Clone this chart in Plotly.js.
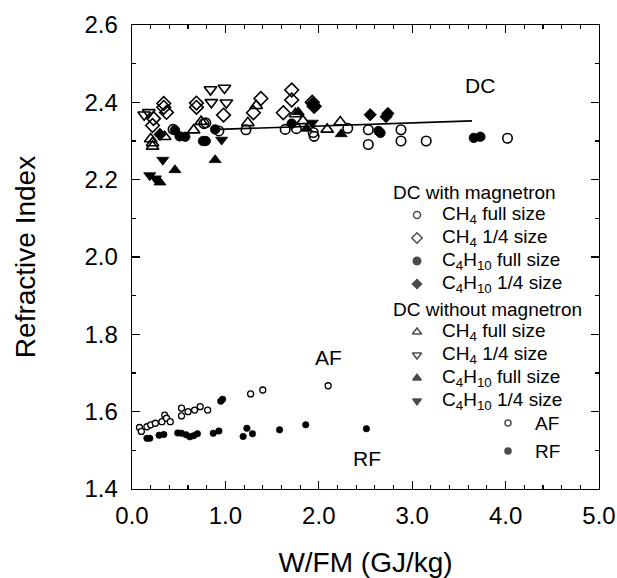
<!DOCTYPE html>
<html>
<head>
<meta charset="utf-8">
<script src="https://cdn.plot.ly/plotly-3.0.1.min.js"></script>
<style>html,body{margin:0;padding:0;background:#fff;}#chart{width:617px;height:578px;}</style>
</head>
<body>
<div id="chart"></div>
<script>
// ---- Data ----
// DC with magnetron, CH4 full size (open circles)
const magCH4FullX = [0.44,0.77,0.79,0.93,1.22,1.64,1.76,1.94,1.95,2.31,2.53,2.53,2.88,2.88,3.15,4.02];
const magCH4FullY = [2.330,2.345,2.347,2.326,2.329,2.330,2.332,2.322,2.312,2.333,2.329,2.291,2.329,2.300,2.300,2.307];
// DC with magnetron, CH4 1/4 size (open diamonds)
const magCH4QuarterX = [0.23,0.22,0.34,0.34,0.37,0.69,0.69,0.98,1.30,1.38,1.62,1.71,1.71,1.93,1.95];
const magCH4QuarterY = [2.358,2.340,2.397,2.387,2.374,2.398,2.387,2.367,2.373,2.410,2.373,2.432,2.406,2.400,2.390];
// DC with magnetron, C4H10 full size (filled circles)
const magC4FullX = [0.46,0.51,0.57,0.76,0.79,0.89,1.71,2.64,2.66,3.66,3.73];
const magC4FullY = [2.328,2.312,2.311,2.300,2.300,2.330,2.345,2.326,2.321,2.308,2.311];
// DC with magnetron, C4H10 1/4 size (filled diamonds)
const magC4QuarterX = [0.30,1.93,1.96,2.55,2.72,2.74];
const magC4QuarterY = [2.317,2.397,2.389,2.368,2.363,2.371];
// DC without magnetron, CH4 full size (open up-triangles)
const noMagCH4FullX = [0.20,0.22,0.22,0.35,0.66,0.74,1.24,1.33,1.75,1.83,2.09,2.23];
const noMagCH4FullY = [2.305,2.295,2.286,2.311,2.328,2.350,2.347,2.391,2.370,2.352,2.330,2.349];
// DC without magnetron, CH4 1/4 size (open down-triangles)
const noMagCH4QuarterX = [0.13,0.18,0.84,0.99,0.85,1.01];
const noMagCH4QuarterY = [2.368,2.374,2.433,2.437,2.400,2.399];
// DC without magnetron, C4H10 full size (filled up-triangles)
const noMagC4FullX = [0.30,0.46,0.89,1.78,1.87,2.24];
const noMagC4FullY = [2.193,2.225,2.251,2.375,2.332,2.318];
// DC without magnetron, C4H10 1/4 size (filled down-triangles)
const noMagC4QuarterX = [0.19,0.25,0.33,0.96,1.93];
const noMagC4QuarterY = [2.211,2.203,2.251,2.303,2.347];
// AF (small open circles)
const afX = [0.08,0.10,0.16,0.20,0.25,0.32,0.35,0.37,0.41,0.53,0.53,0.60,0.67,0.73,0.81,1.27,1.40,2.10];
const afY = [1.559,1.549,1.561,1.566,1.570,1.574,1.591,1.583,1.574,1.609,1.589,1.600,1.604,1.613,1.604,1.646,1.656,1.667];
// RF (small filled circles)
const rfX = [0.16,0.19,0.29,0.34,0.49,0.53,0.58,0.62,0.66,0.70,0.87,0.93,0.95,0.97,1.19,1.23,1.29,1.58,1.86,2.51];
const rfY = [1.531,1.531,1.539,1.541,1.545,1.544,1.540,1.535,1.538,1.543,1.544,1.550,1.627,1.632,1.536,1.557,1.543,1.553,1.566,1.556];
// DC fit line
const fitX = [0.92, 3.64];
const fitY = [2.330, 2.352];

// Legend / labels
const groupTitles = ['DC with magnetron', 'DC without magnetron'];
const itemLabels = ['CH<sub>4</sub> full size', 'CH<sub>4</sub> 1/4 size', 'C<sub>4</sub>H<sub>10</sub> full size', 'C<sub>4</sub>H<sub>10</sub> 1/4 size'];
const extraLabels = ['AF', 'RF'];
const xTickVals = [0, 1, 2, 3, 4, 5];
const xTickText = ['0.0', '1.0', '2.0', '3.0', '4.0', '5.0'];
const yTickVals = [1.4, 1.6, 1.8, 2.0, 2.2, 2.4, 2.6];
const yTickText = ['1.4', '1.6', '1.8', '2.0', '2.2', '2.4', '2.6'];

// ---- Styles ----
const FONT = 'Liberation Sans, Arial, Helvetica, sans-serif';
const BLK = '#000';
const openM = (sym, size) => ({symbol: sym, size: size, color: 'rgba(255,255,255,0)', line: {color: BLK, width: 1.6}});
const fillM = (sym, size) => ({symbol: sym, size: size, color: BLK, line: {color: BLK, width: 0.8}});

const styles = [
  openM('circle', 9.5), openM('diamond', 10.5), fillM('circle', 9.5), fillM('diamond', 9.5),
  openM('triangle-up', 11), openM('triangle-down', 11), fillM('triangle-up', 10.5), fillM('triangle-down', 10.5)
];
const seriesX = [magCH4FullX, magCH4QuarterX, magC4FullX, magC4QuarterX, noMagCH4FullX, noMagCH4QuarterX, noMagC4FullX, noMagC4QuarterX];
const seriesY = [magCH4FullY, magCH4QuarterY, magC4FullY, magC4QuarterY, noMagCH4FullY, noMagCH4QuarterY, noMagC4FullY, noMagC4QuarterY];

const traces = [];
traces.push({x: fitX, y: fitY, mode: 'lines', line: {color: BLK, width: 1.6}, showlegend: false, hoverinfo: 'skip'});
for (let i = 0; i < seriesX.length; i++) {
  traces.push({x: seriesX[i], y: seriesY[i], mode: 'markers', marker: styles[i], showlegend: false, cliponaxis: false});
}
traces.push({x: afX, y: afY, mode: 'markers', marker: {symbol: 'circle', size: 6, color: '#fff', line: {color: BLK, width: 1.3}}, showlegend: false});
traces.push({x: rfX, y: rfY, mode: 'markers', marker: {symbol: 'circle', size: 6.5, color: BLK, line: {color: BLK, width: 0.6}}, showlegend: false});

// ---- Legend drawn on a pixel-aligned overlay axis ----
const PL = 132, PR = 599, PT = 25, PB = 489;
const legSymX = 417, legTextX = 440, legHeadX = 391;
const headY = [192, 309];
const rowStep = 23;
const legX = [], legY = [], legSym = [], legCol = [], legSize = [];
const legSizes = [7, 8, 7.5, 7, 8, 8, 7.5, 7.5];
const annotations = [];
for (let g = 0; g < 2; g++) {
  annotations.push({xref: 'x2', yref: 'y2', x: legHeadX, y: headY[g], text: groupTitles[g], showarrow: false, xanchor: 'left', yanchor: 'middle', font: {family: FONT, size: 19, color: BLK}});
  for (let k = 0; k < 4; k++) {
    const yy = headY[g] + 23 + k * rowStep;
    const st = styles[g * 4 + k];
    legX.push(legSymX); legY.push(yy); legSym.push(st.symbol);
    legCol.push(st.color); legSize.push(legSizes[g * 4 + k]);
    annotations.push({xref: 'x2', yref: 'y2', x: legTextX, y: yy, text: itemLabels[k], showarrow: false, xanchor: 'left', yanchor: 'middle', font: {family: FONT, size: 19, color: BLK}});
  }
}
const extraY = [423, 451];
const extraSymX = 508, extraTextX = 533;
for (let k = 0; k < 2; k++) {
  legX.push(extraSymX); legY.push(extraY[k]); legSym.push('circle');
  legCol.push(k === 0 ? '#fff' : BLK); legSize.push(6);
  annotations.push({xref: 'x2', yref: 'y2', x: extraTextX, y: extraY[k], text: extraLabels[k], showarrow: false, xanchor: 'left', yanchor: 'middle', font: {family: FONT, size: 19, color: BLK}});
}
traces.push({x: legX, y: legY, xaxis: 'x2', yaxis: 'y2', mode: 'markers', cliponaxis: false, showlegend: false, hoverinfo: 'skip',
  marker: {symbol: legSym, size: legSize, color: legCol, line: {color: BLK, width: 1.5}}});

// In-plot labels
annotations.push({xref: 'x', yref: 'y', x: 3.73, y: 2.444, text: 'DC', showarrow: false, font: {family: FONT, size: 21, color: BLK}});
annotations.push({xref: 'x', yref: 'y', x: 2.10, y: 1.739, text: 'AF', showarrow: false, font: {family: FONT, size: 21, color: BLK}});
annotations.push({xref: 'x', yref: 'y', x: 2.52, y: 1.478, text: 'RF', showarrow: false, font: {family: FONT, size: 21, color: BLK}});

const axisCommon = {
  showline: true, linecolor: BLK, linewidth: 1.4, mirror: 'allticks', ticks: 'inside', ticklen: 8, tickwidth: 1.4, tickcolor: BLK,
  showgrid: false, zeroline: false, tickfont: {family: FONT, size: 24, color: BLK}
};

const layout = {
  width: 617, height: 578,
  margin: {l: PL, r: 617 - PR, t: PT, b: 578 - PB},
  paper_bgcolor: '#fff', plot_bgcolor: '#fff',
  showlegend: false,
  xaxis: Object.assign({}, axisCommon, {
    range: [0, 5], tickvals: xTickVals, ticktext: xTickText, ticklabelstandoff: 5,
    minor: {ticks: 'inside', ticklen: 4, dtick: 0.2, tickwidth: 1.1, tickcolor: BLK, showgrid: false},
    title: {text: 'W/FM (GJ/kg)', font: {family: FONT, size: 28, color: BLK}, standoff: 34}
  }),
  yaxis: Object.assign({}, axisCommon, {
    range: [1.4, 2.6], tickvals: yTickVals, ticktext: yTickText, ticklabelstandoff: 8,
    minor: {ticks: 'inside', ticklen: 4, dtick: 0.1, tickwidth: 1.1, tickcolor: BLK, showgrid: false},
    title: {text: 'Refractive Index', font: {family: FONT, size: 28, color: BLK}, standoff: 40}
  }),
  xaxis2: {overlaying: 'x', range: [PL, PR], visible: false, fixedrange: true},
  yaxis2: {overlaying: 'y', range: [PB, PT], visible: false, fixedrange: true},
  annotations: annotations
};

Plotly.newPlot('chart', traces, layout, {displayModeBar: false, staticPlot: true});
</script>
</body>
</html>
